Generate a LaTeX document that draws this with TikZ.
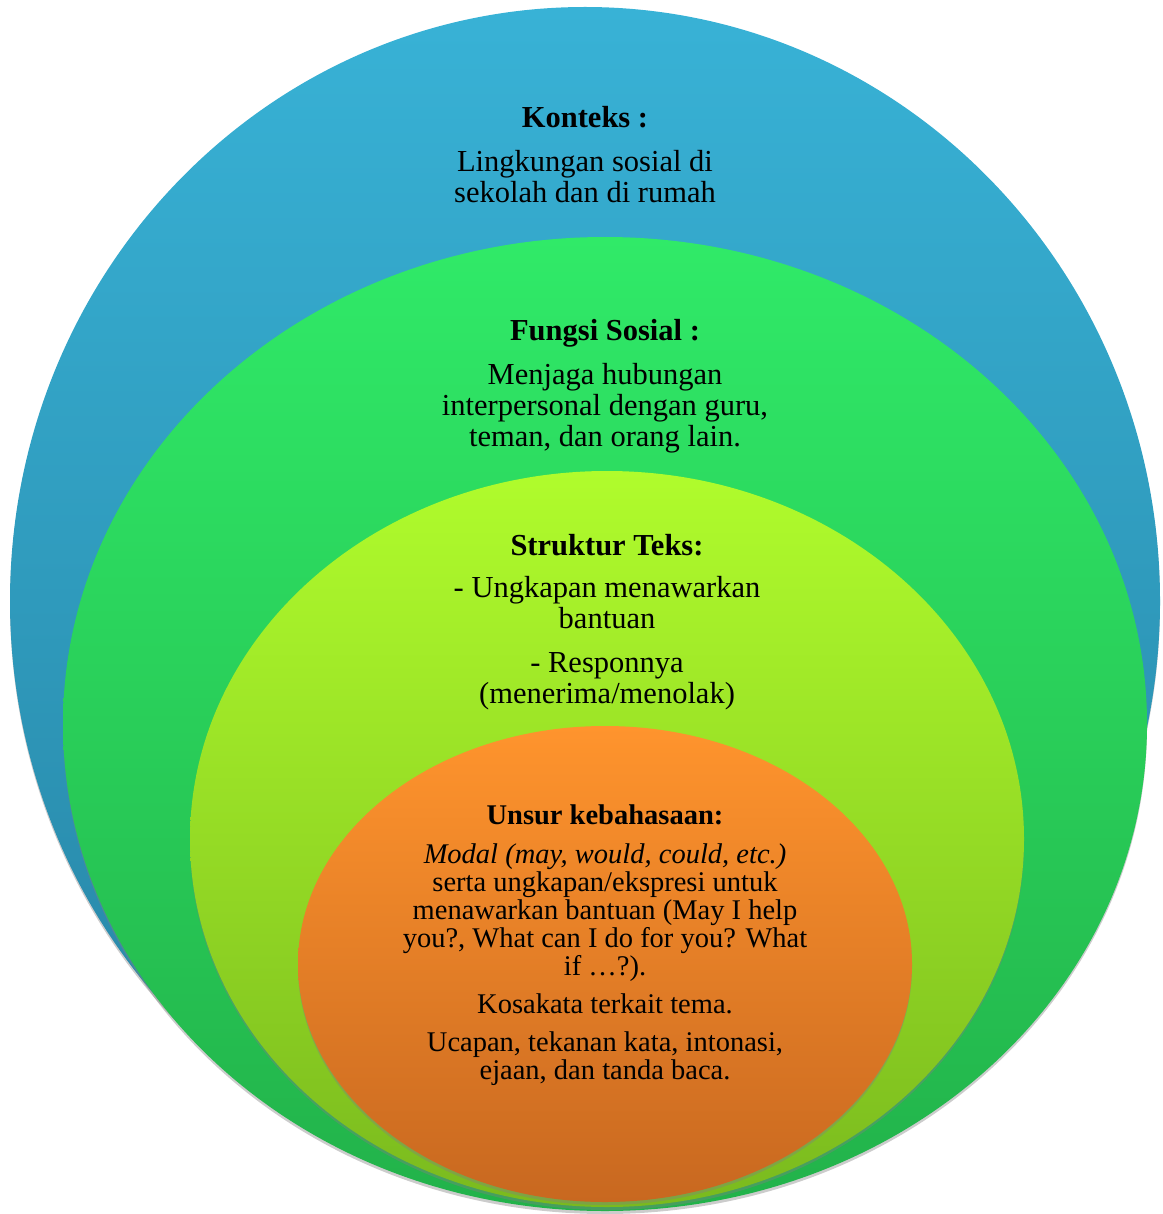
\documentclass[tikz,border=0pt]{standalone}
\usepackage{fontspec}
\setmainfont{Liberation Serif}
\usepackage{tikz}
\usetikzlibrary{shadows}
\definecolor{kontekstop}{RGB}{56,178,214}
\definecolor{konteksbottom}{RGB}{38,130,162}
\definecolor{fungsitop}{RGB}{48,234,104}
\definecolor{fungsibottom}{RGB}{34,178,74}
\definecolor{strukturtop}{RGB}{176,252,44}
\definecolor{strukturbottom}{RGB}{122,186,30}
\definecolor{unsurtop}{RGB}{255,148,45}
\definecolor{unsurbottom}{RGB}{200,104,32}

\begin{document}
\begin{tikzpicture}[x=1pt,y=-1pt,
  ring/.style={drop shadow={opacity=0.4,shadow xshift=0pt,shadow yshift=-3pt}},
  ringtext/.style={align=center,inner sep=0pt,font=\fontsize{30.5}{31}\selectfont},
  coretext/.style={align=center,inner sep=0pt,font=\fontsize{28.5}{28}\selectfont}]
\useasboundingbox (0,0) rectangle (1162,1214);
\path[ring,top color=kontekstop,bottom color=konteksbottom] (585,601) ellipse [x radius=575pt,y radius=594pt];
\path[ring,top color=fungsitop,bottom color=fungsibottom] (605,724) ellipse [x radius=542pt,y radius=487pt];
\path[ring,top color=strukturtop,bottom color=strukturbottom] (607,839) ellipse [x radius=417pt,y radius=368pt];
\path[ring,top color=unsurtop,bottom color=unsurbottom] (605,964) ellipse [x radius=307pt,y radius=238pt];
\node (konteks) at (585,155) [ringtext]
{\textbf{Konteks :}\\[13pt]
Lingkungan sosial di\\
sekolah dan di rumah};
\node (fungsi) at (605,386) [ringtext]
{\textbf{Fungsi Sosial :}\\[13pt]
Menjaga hubungan\\
interpersonal dengan guru,\\
teman, dan orang lain.};
\node (struktur) at (607,622) [ringtext]
{\textbf{Struktur Teks:}\\[11pt]
- Ungkapan menawarkan\\
bantuan\\[13pt]
- Responnya\\
(menerima/menolak)};
\node (unsur) at (605,945) [coretext]
{\textbf{Unsur kebahasaan:}\\[11pt]
\textit{Modal (may, would, could, etc.)}\\
serta ungkapan/ekspresi untuk\\
menawarkan bantuan (May I help\\
you?, What can I do for you? What\\
if …?).\\[10pt]
Kosakata terkait tema.\\[10pt]
Ucapan, tekanan kata, intonasi,\\
ejaan, dan tanda baca.};
\end{tikzpicture}
\end{document}
